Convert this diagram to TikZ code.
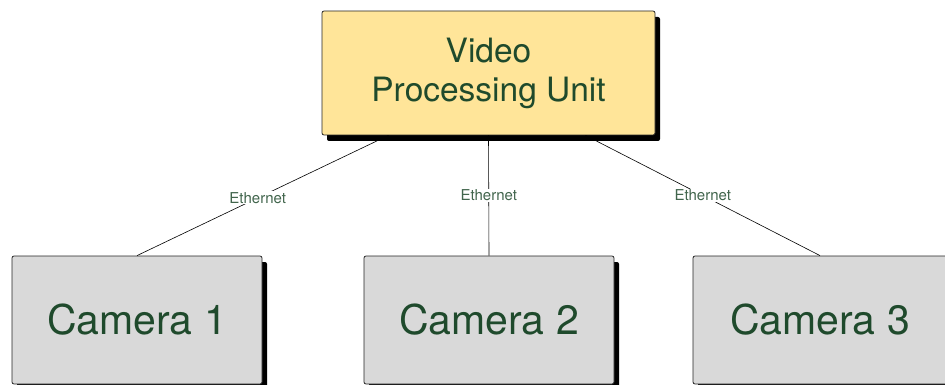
\documentclass[tikz,border=0pt]{standalone}
\usepackage{fontspec}
\setmainfont{TeX Gyre Heros}
\usetikzlibrary{shadows, calc}
\definecolor{labelgreen}{HTML}{1F4A2C}
\definecolor{unityellow}{HTML}{FFE599}
\definecolor{camgray}{HTML}{D9D9D9}

\begin{document}
\begin{tikzpicture}[x=1pt, y=-1pt,
  box/.style={draw=black!85, line width=0.8pt, rounded corners=2pt, text=labelgreen, align=center, inner sep=0pt,
    drop shadow={shadow xshift=5pt, shadow yshift=-6pt, fill=black, opacity=1}},
  unitbox/.style={box, fill=unityellow, minimum width=333pt, minimum height=124pt, font=\fontsize{33.5}{39}\selectfont},
  cambox/.style={box, fill=camgray, minimum width=250pt, minimum height=128pt, font=\fontsize{41}{49}\selectfont},
  link/.style={draw=black, line width=0.6pt},
  tag/.style={fill=white, text=labelgreen!85, font=\fontsize{15}{18}\selectfont, inner sep=1pt}]
\useasboundingbox (0,0) rectangle (945,385);
%
\node[unitbox] (vpu) at (488.5,73) {Video\\Processing Unit};
%
\node[cambox] (cam1) at (137,320) {Camera 1};
\node[cambox] (cam2) at (489,320) {Camera 2};
\node[cambox, minimum width=254pt] (cam3) at (820,320) {Camera 3};
%
\draw[link] ($(vpu.south)+(-100,0)$) -- node[tag, pos=.52] {Ethernet} (cam1.north);
\draw[link] (vpu.south) -- node[tag, pos=.5] {Ethernet} (cam2.north);
\draw[link] ($(vpu.south)+(97,0)$) -- node[tag, pos=.5] {Ethernet} (cam3.north);
\end{tikzpicture}
\end{document}
